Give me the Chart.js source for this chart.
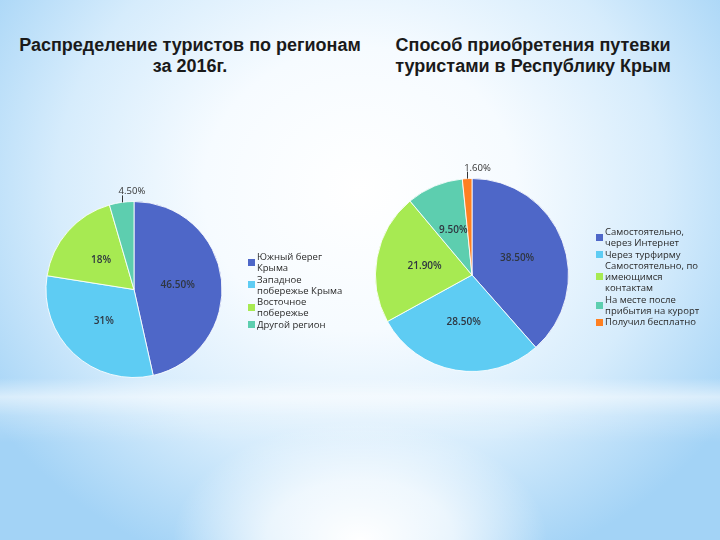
<!DOCTYPE html>
<html><head><meta charset="utf-8">
<script src="https://cdn.jsdelivr.net/npm/chart.js@4.4.0/dist/chart.umd.min.js"></script>
<style>
html,body{margin:0;padding:0;width:720px;height:540px;overflow:hidden;}
body{position:relative;
background:
 radial-gradient(ellipse 26% 22% at 50% 100%, rgba(255,255,255,1) 0%, rgba(255,255,255,0.7) 50%, rgba(255,255,255,0) 100%),
 linear-gradient(to bottom, rgba(255,255,255,0) 0%, rgba(255,255,255,0) 70%, rgba(255,255,255,0.55) 73.5%, rgba(255,255,255,0.2) 77%, rgba(255,255,255,0) 82%),
 radial-gradient(ellipse 62% 75% at 50% 35%, #ffffff 0%, #f6fbff 35%, #d6ecfc 68%, #a3d3f6 100%);}
.title{position:absolute;font-family:"Liberation Sans",Arial,sans-serif;font-weight:bold;font-size:18px;line-height:21px;color:#1a1a1a;text-align:center;white-space:pre;}
canvas{position:absolute;left:0;top:0;}
.legend{position:absolute;font-family:"Open Sans",sans-serif;font-size:9.5px;line-height:11.3px;color:#2a2a2a;}
.item{display:flex;align-items:center;}
.sw{width:7px;height:7px;margin-right:2px;flex:none;}
.txt{white-space:pre;}
</style></head>
<body>
<div class="title" id="t1" style="left:10px;top:35px;width:360px;"></div>
<div class="title" id="t2" style="left:380px;top:35px;width:306px;"></div>
<canvas id="c1" width="720" height="540"></canvas>
<canvas id="c2" width="720" height="540"></canvas>
<div class="legend" id="l1" style="left:248px;top:251px;"></div>
<div class="legend" id="l2" style="left:596px;top:226px;"></div>
<script>
const title1 = "Распределение туристов по регионам\nза 2016г.";
const title2 = "Способ приобретения путевки\nтуристами в Республику Крым";

const regionLabels = ["Южный берег\nКрыма", "Западное\nпобережье Крыма", "Восточное\nпобережье", "Другой регион"];
const regionValues = [46.5, 31, 18, 4.5];
const regionText = ["46.50%", "31%", "18%", "4.50%"];

const methodLabels = ["Самостоятельно,\nчерез Интернет", "Через турфирму", "Самостоятельно, по\nимеющимся\nконтактам", "На месте после\nприбытия на курорт", "Получил бесплатно"];
const methodValues = [38.5, 28.5, 21.9, 9.5, 1.6];
const methodText = ["38.50%", "28.50%", "21.90%", "9.50%", "1.60%"];

const colors = ["#4E67C8", "#5ECCF3", "#A7EA52", "#5DCEAF", "#FF8021"];

document.getElementById('t1').textContent = title1;
document.getElementById('t2').textContent = title2;

function buildLegend(id, labels){
  const el = document.getElementById(id);
  labels.forEach((l,i)=>{
    const it = document.createElement('div'); it.className='item';
    const sw = document.createElement('div'); sw.className='sw'; sw.style.background=colors[i];
    const tx = document.createElement('div'); tx.className='txt'; tx.textContent=l;
    it.appendChild(sw); it.appendChild(tx); el.appendChild(it);
  });
}
buildLegend('l1', regionLabels);
buildLegend('l2', methodLabels);

const pieLabels = {
  id:'pieLabels',
  afterDatasetsDraw(chart, args, opts){
    const ctx = chart.ctx;
    const meta = chart.getDatasetMeta(0);
    ctx.save();
    meta.data.forEach((arc,i)=>{
      const txt = opts.texts[i];
      if (opts.outside.includes(i)) {
        const mid = (arc.startAngle + arc.endAngle)/2;
        const x = arc.x + Math.cos(mid)*arc.outerRadius;
        const y = arc.y + Math.sin(mid)*arc.outerRadius;
        ctx.strokeStyle = '#333'; ctx.lineWidth = 1;
        ctx.beginPath(); ctx.moveTo(Math.round(x)+0.5, y); ctx.lineTo(Math.round(x)+0.5, y-7); ctx.stroke();
        ctx.font = '9.5px "Open Sans"';
        ctx.fillStyle = '#333';
        ctx.textAlign = 'left'; ctx.textBaseline = 'bottom';
        ctx.fillText(txt, x-3, y-6);
      } else {
        const p = arc.tooltipPosition();
        ctx.font = '600 10px "Open Sans"';
        ctx.fillStyle = '#2f3640';
        ctx.textAlign = 'center'; ctx.textBaseline = 'middle';
        ctx.fillText(txt, p.x, p.y);
      }
    });
    ctx.restore();
  }
};

function makePie(id, labels, values, texts, outside, padding){
  new Chart(document.getElementById(id), {
    type:'pie',
    data:{ labels: labels, datasets:[{ data: values, backgroundColor: colors.slice(0, values.length), borderColor:'rgba(255,255,255,0.85)', borderWidth:1 }]},
    options:{
      responsive:false, maintainAspectRatio:false, animation:false,
      events:[],
      layout:{ padding: padding },
      plugins:{ legend:{display:false}, tooltip:{enabled:false}, title:{display:false},
        pieLabels:{ texts: texts, outside: outside } }
    },
    plugins:[pieLabels]
  });
}
makePie('c1', regionLabels, regionValues, regionText, [3], {left:45, right:497, top:201, bottom:162});
makePie('c2', methodLabels, methodValues, methodText, [4], {left:375, right:151, top:178, bottom:168});
</script>
</body></html>
